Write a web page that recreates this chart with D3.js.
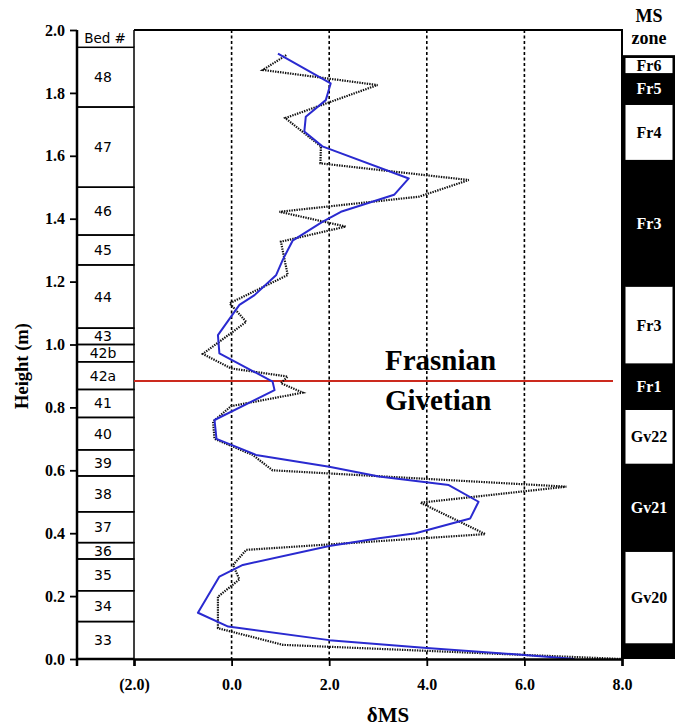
<!DOCTYPE html>
<html>
<head>
<meta charset="utf-8">
<script src="https://cdn.jsdelivr.net/npm/d3@7"></script>
<style>
  body { margin: 0; background: #fff; }
  text { font-family: "Liberation Serif", "Times New Roman", serif; }
</style>
</head>
<body>
<div class="canvas"></div>
<script>
'use strict';

// Raw delta MS (dotted) and smoothed curve (blue), value vs height (m)
var rawValue  = [1.12, 0.64, 2.99, 1.10, 1.83, 1.82, 4.86, 3.84, 0.98, 2.34, 1.01, 1.15, -0.04, 0.30, -0.59,
                 -0.01, 1.15, 1.01, 1.46, -0.01, -0.38, -0.35, 0.43, 0.84, 6.86, 3.87, 5.20, 0.30, 0.03,
                 0.16, -0.28, -0.28, 1.05, 8.00];
var rawHeight = [1.920, 1.873, 1.825, 1.720, 1.630, 1.576, 1.523, 1.470, 1.422, 1.375, 1.327, 1.221, 1.131, 1.072, 0.970,
                 0.924, 0.898, 0.877, 0.847, 0.804, 0.755, 0.700, 0.649, 0.600, 0.548, 0.497, 0.397, 0.347, 0.299,
                 0.253, 0.198, 0.098, 0.045, 0.000];

var smoothValue  = [0.95, 2.03, 1.93, 1.52, 1.49, 1.86, 3.63, 3.33, 2.24, 1.86, 1.25, 1.05, 0.91, 0.47, 0.16, -0.28,
                    -0.25, 0.84, 0.88, -0.35, -0.31, 0.50, 2.00, 3.02, 4.45, 5.06, 4.89, 3.77, 3.02, 2.00, 0.23,
                    -0.25, -0.69, -0.07, 2.00, 4.00, 6.00, 7.03];
var smoothHeight = [1.925, 1.830, 1.777, 1.724, 1.677, 1.630, 1.528, 1.476, 1.422, 1.390, 1.330, 1.270, 1.220, 1.157, 1.126, 1.030,
                    0.972, 0.882, 0.855, 0.760, 0.700, 0.649, 0.611, 0.580, 0.553, 0.500, 0.447, 0.400, 0.384, 0.359, 0.299,
                    0.262, 0.147, 0.103, 0.060, 0.035, 0.013, 0.000];

// Bed column
var bedNames  = ['33', '34', '35', '36', '37', '38', '39', '40', '41', '42a', '42b', '43', '44', '45', '46', '47', '48'];
var bedBottom = [0, 0.119, 0.217, 0.318, 0.370, 0.468, 0.582, 0.665, 0.768, 0.857, 0.945, 1.000, 1.052, 1.253, 1.348, 1.500, 1.755];
var bedTop    = [0.119, 0.217, 0.318, 0.370, 0.468, 0.582, 0.665, 0.768, 0.857, 0.945, 1.000, 1.052, 1.253, 1.348, 1.500, 1.755, 1.945];

// MS zones (alternating white / black from the base)
var zoneNames  = ['Gv20', 'Gv21', 'Gv22', 'Fr1', 'Fr3', 'Fr3', 'Fr4', 'Fr5', 'Fr6'];
var zoneBottom = [0.050, 0.341, 0.621, 0.792, 0.940, 1.184, 1.587, 1.762, 1.863];
var zoneTop    = [0.341, 0.621, 0.792, 0.940, 1.184, 1.587, 1.762, 1.863, 1.911];
var zoneColumnTop = 1.92;

var boundaryHeight = 0.884; // Frasnian / Givetian

var xTicks = [-2, 0, 2, 4, 6, 8];
var gridTicks = [0, 2, 4, 6];
var yTicks = d3.range(0, 2.01, 0.2);

var svg = d3.select('.canvas').append('svg').attr('width', 681).attr('height', 727);

var plotLeft = 134, plotRight = 622, plotTop = 30, plotBottom = 659;
var bedLeft = 77;
var zoneLeft = 623, zoneRight = 675;

var x = d3.scaleLinear().domain([-2, 8]).range([plotLeft, plotRight]);
var y = d3.scaleLinear().domain([0, 2]).range([plotBottom, plotTop]);

// Dotted grid lines
svg.append('g').selectAll('line').data(gridTicks).enter().append('line')
  .attr('x1', function (d) { return x(d); }).attr('x2', function (d) { return x(d); })
  .attr('y1', plotTop).attr('y2', plotBottom)
  .attr('stroke', '#000').attr('stroke-width', 1.6).attr('stroke-dasharray', '3,2.5');

// Bed column
var beds = svg.append('g');
beds.selectAll('rect').data(bedNames).enter().append('rect')
  .attr('x', bedLeft).attr('width', plotLeft - bedLeft)
  .attr('y', function (d, i) { return y(bedTop[i]); })
  .attr('height', function (d, i) { return y(bedBottom[i]) - y(bedTop[i]); })
  .attr('fill', 'none').attr('stroke', '#000').attr('stroke-width', 1.5);
beds.selectAll('text').data(bedNames).enter().append('text')
  .attr('x', 103)
  .attr('y', function (d, i) { return (y(bedTop[i]) + y(bedBottom[i])) / 2 + 5; })
  .attr('text-anchor', 'middle')
  .style('font-family', '"DejaVu Sans", Verdana, sans-serif').style('font-size', '14px')
  .text(function (d) { return d; });
beds.append('text').attr('x', 105).attr('y', 43).attr('text-anchor', 'middle')
  .style('font-family', '"DejaVu Sans", Verdana, sans-serif').style('font-size', '13.5px')
  .text('Bed #');
beds.append('line').attr('x1', plotLeft).attr('x2', plotLeft).attr('y1', plotTop).attr('y2', y(bedTop[bedTop.length - 1]))
  .attr('stroke', '#000').attr('stroke-width', 1.5);

// Stage boundary
svg.append('line').attr('x1', plotLeft).attr('x2', 613)
  .attr('y1', y(boundaryHeight)).attr('y2', y(boundaryHeight))
  .attr('stroke', '#cc2a1e').attr('stroke-width', 2);

var line = d3.line()
  .x(function (d) { return x(d[0]); })
  .y(function (d) { return y(d[1]); });

svg.append('path').datum(d3.zip(rawValue, rawHeight))
  .attr('d', line).attr('fill', 'none')
  .attr('stroke', '#111').attr('stroke-width', 2.2).attr('stroke-dasharray', '1.4,1.1');

svg.append('path').datum(d3.zip(smoothValue, smoothHeight))
  .attr('d', line).attr('fill', 'none')
  .attr('stroke', '#2a2ad0').attr('stroke-width', 2).attr('stroke-linejoin', 'round');

// Frame (top and right)
svg.append('path')
  .attr('d', 'M' + plotLeft + ',' + plotTop + 'H' + plotRight + 'V' + plotBottom)
  .attr('fill', 'none').attr('stroke', '#000').attr('stroke-width', 2);

// Axes
var xAxis = d3.axisBottom(x).tickValues(xTicks).tickSize(7).tickPadding(13)
  .tickFormat(function (d) { return d < 0 ? '(' + d3.format('.1f')(-d) + ')' : d3.format('.1f')(d); });
var xAxisGroup = svg.append('g').attr('transform', 'translate(0,' + plotBottom + ')').call(xAxis);
xAxisGroup.append('line').attr('x1', bedLeft).attr('x2', plotLeft).attr('stroke', '#000').attr('stroke-width', 2.5);

var yAxis = d3.axisLeft(y).tickValues(yTicks).tickSize(7).tickPadding(5).tickFormat(d3.format('.1f'));
var yAxisGroup = svg.append('g').attr('transform', 'translate(' + bedLeft + ',0)').call(yAxis);
yAxisGroup.select('.domain').attr('d', 'M0,' + plotTop + 'V' + (plotBottom + 7));

[xAxisGroup, yAxisGroup].forEach(function (g) {
  g.select('.domain').attr('stroke', '#000').attr('stroke-width', 2.5);
  g.selectAll('.tick line').attr('stroke', '#000').attr('stroke-width', 1.8);
  g.selectAll('.tick text')
    .style('font-family', '"Liberation Serif", serif').style('font-size', '16px')
    .style('font-weight', 'bold').attr('fill', '#000');
});

svg.append('text').attr('transform', 'translate(28,' + 366 + ') rotate(-90)')
  .attr('text-anchor', 'middle').style('font-size', '18.5px').style('font-weight', 'bold')
  .text('Height (m)');
svg.append('text').attr('x', 388).attr('y', 722).attr('text-anchor', 'middle')
  .style('font-size', '21px').style('font-weight', 'bold').text('δMS');

// Stage names
svg.append('text').attr('x', 385).attr('y', 370).style('font-size', '29px').style('font-weight', 'bold').text('Frasnian');
svg.append('text').attr('x', 385).attr('y', 410).style('font-size', '29px').style('font-weight', 'bold').text('Givetian');

// MS zone column
var zones = svg.append('g');
zones.append('rect').attr('x', zoneLeft).attr('width', zoneRight - zoneLeft)
  .attr('y', y(zoneColumnTop)).attr('height', y(0) - y(zoneColumnTop)).attr('fill', '#000');
zones.selectAll('rect.zone').data(zoneNames).enter().append('rect').attr('class', 'zone')
  .attr('x', zoneLeft + 2.5).attr('width', zoneRight - zoneLeft - 5)
  .attr('y', function (d, i) { return y(zoneTop[i]); })
  .attr('height', function (d, i) { return y(zoneBottom[i]) - y(zoneTop[i]); })
  .attr('fill', function (d, i) { return i % 2 === 0 ? '#fff' : '#000'; });
zones.selectAll('text').data(zoneNames).enter().append('text')
  .attr('x', 649)
  .attr('y', function (d, i) { return (y(zoneTop[i]) + y(zoneBottom[i])) / 2 + 5.5; })
  .attr('text-anchor', 'middle').style('font-size', '16px').style('font-weight', 'bold')
  .attr('fill', function (d, i) { return i % 2 === 0 ? '#000' : '#fff'; })
  .text(function (d) { return d; });
zones.append('text').attr('x', 649).attr('y', 22).attr('text-anchor', 'middle')
  .style('font-size', '18px').style('font-weight', 'bold').text('MS');
zones.append('text').attr('x', 649).attr('y', 44).attr('text-anchor', 'middle')
  .style('font-size', '18px').style('font-weight', 'bold').text('zone');
</script>
</body>
</html>
